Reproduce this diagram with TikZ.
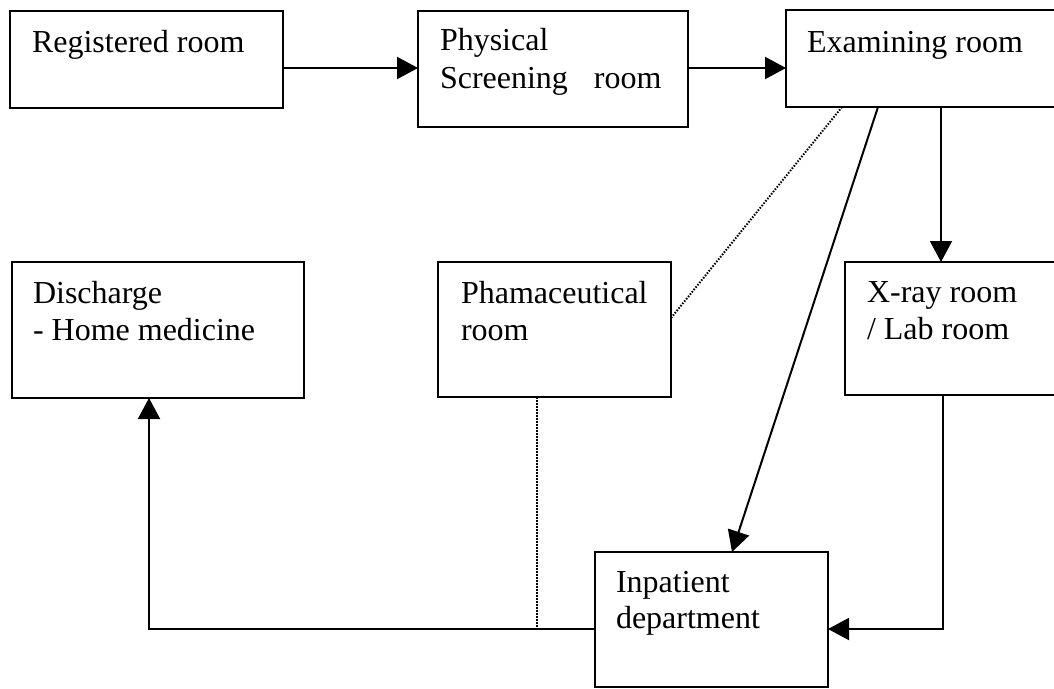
\documentclass[tikz,border=0pt]{standalone}
\usepackage{fontspec}
\setmainfont{Liberation Serif}
\usetikzlibrary{arrows.meta}
\begin{document}
\begin{tikzpicture}[x=1pt,y=-1pt,
  box/.style={draw, line width=2pt, inner sep=0pt, outer sep=0pt, rectangle},
  txt/.style={anchor=base west, inner sep=0pt, outer sep=0pt, font=\fontsize{32}{37}\selectfont},
  arr/.style={line width=2pt, -{Triangle[length=21pt,width=22pt]}},
  dotline/.style={line width=2pt, dash pattern=on 1.5pt off 1.5pt}]
\useasboundingbox (0,0) rectangle (1054,688);
\fill[white] (0,0) rectangle (1054,688);
\clip (0,0) rectangle (1054,688);
% boxes
\node[box, minimum width=273pt, minimum height=97pt] (reg) at (146.5,59.5) {};
\node[box, minimum width=270pt, minimum height=116pt] (phys) at (553,69) {};
\node[box, minimum width=274pt, minimum height=97pt] (exam) at (923,58.5) {};
\node[box, minimum width=292pt, minimum height=136pt] (dis) at (158,330) {};
\node[box, minimum width=233pt, minimum height=135pt] (pharm) at (554.5,329.5) {};
\node[box, minimum width=215pt, minimum height=133pt] (xray) at (952.5,328.5) {};
\node[box, minimum width=233pt, minimum height=135pt] (inp) at (711.5,619.5) {};
% texts
\node[txt] (reg-t) at (32,52) {Registered room};
\node[txt] (phys-t1) at (440,50) {Physical};
\node[txt] (phys-t2) at (440,88) {Screening\hspace{26pt}room};
\node[txt] (exam-t) at (807,52) {Examining room};
\node[txt] (dis-t1) at (33,303) {Discharge};
\node[txt] (dis-t2) at (33,340) {- Home medicine};
\node[txt] (pharm-t1) at (461,303) {Phamaceutical};
\node[txt] (pharm-t2) at (461,340) {room};
\node[txt] (xray-t1) at (867,302) {X-ray room};
\node[txt] (xray-t2) at (867,339) {/ Lab room};
\node[txt] (inp-t1) at (616,592) {Inpatient};
\node[txt] (inp-t2) at (616,628) {department};
\coordinate (pj) at (537,629);
% connectors
\draw[arr] (reg.east |- 0,68) -- (phys.west |- 0,68);
\draw[arr] (phys.east |- 0,68) -- (exam.west |- 0,68);
\draw[arr] (exam.south -| 878,0) -- (inp.north -| 732,0);
\draw[dotline] (exam.south -| 842,0) -- (pharm.east |- 0,318);
\draw[arr] (exam.south -| 941,0) -- (xray.north -| 941,0);
\draw[arr] (xray.south -| 943,0) |- (inp.east |- 0,629);
\draw[arr] (inp.west |- 0,629) -| (dis.south -| 149,0);
\draw[dotline] (pharm.south -| 537,0) -- (pj);
\end{tikzpicture}
\end{document}
